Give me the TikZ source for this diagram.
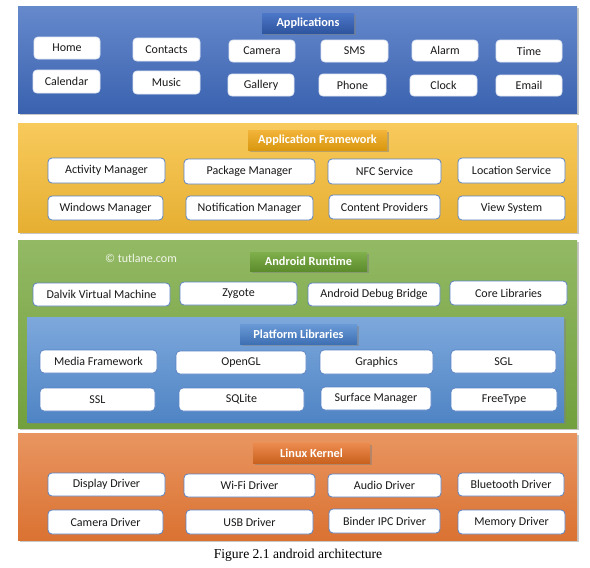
\documentclass[tikz,border=0pt]{standalone}
\usepackage{fontspec}
\setmainfont{Carlito}
\newfontfamily\capfont{Liberation Serif}
\usetikzlibrary{shadows}
\definecolor{appT}{HTML}{6689CC}\definecolor{appB}{HTML}{3A62AF}
\definecolor{fwT}{HTML}{F8CA5C}\definecolor{fwB}{HTML}{E6AF32}
\definecolor{rtT}{HTML}{93B964}\definecolor{rtB}{HTML}{72A03E}
\definecolor{lkT}{HTML}{E99560}\definecolor{lkB}{HTML}{DA7232}
\definecolor{plT}{HTML}{7DA8DC}\definecolor{plB}{HTML}{4F84C4}
\definecolor{tappT}{HTML}{4D77C8}\definecolor{tappB}{HTML}{2E559F}
\definecolor{tfwT}{HTML}{F2B43A}\definecolor{tfwB}{HTML}{D9980F}
\definecolor{trtT}{HTML}{80B04C}\definecolor{trtB}{HTML}{5C8C2C}
\definecolor{tplT}{HTML}{6A9AD6}\definecolor{tplB}{HTML}{3E70B4}
\definecolor{tlkT}{HTML}{EC8A4E}\definecolor{tlkB}{HTML}{C9621F}
\definecolor{bxline}{HTML}{5B84C4}
\newcommand\bx[7]{\node[#1, minimum width={(#5-#3)*0.75pt}, minimum height={(#6-#4)*0.75pt}] (#2) at ({(#3+#5)/2},{(#4+#6)/2}) {#7};}
\tikzset{
  layer/.style={rectangle, inner sep=0pt, draw=none, drop shadow={shadow xshift=1.2pt, shadow yshift=-1.2pt, opacity=0.45}},
  ttl/.style={rectangle, inner sep=0pt, draw=none, text=white, font=\fontsize{9.2}{11}\selectfont\bfseries, drop shadow={shadow xshift=1.2pt, shadow yshift=-1.2pt, opacity=0.5}},
  wbox/.style={rectangle, rounded corners=3pt, inner sep=0pt, fill=white, draw=bxline, line width=0.6pt, text=black!90, font=\fontsize{9}{10.8}\selectfont},
  abox/.style={wbox, draw=white!85!appB}
}
\begin{document}
\begin{tikzpicture}[x=0.75pt,y=-0.75pt]
\useasboundingbox (0,0) rectangle (590,568);
% layers
\bx{layer, top color=appT, bottom color=appB}{Lapp}{18}{6}{577}{113}{}
\bx{layer, top color=fwT, bottom color=fwB}{Lfw}{18}{123}{577}{232}{}
\bx{layer, top color=rtT, bottom color=rtB}{Lrt}{18}{240}{577}{428}{}
\bx{layer, top color=plT, bottom color=plB}{Lpl}{27}{317}{564}{422}{}
\bx{layer, top color=lkT, bottom color=lkB}{Llk}{18}{433}{577}{540}{}
% titles
\bx{ttl, top color=tappT, bottom color=tappB}{Tapp}{262}{13}{354}{33}{Applications}
\bx{ttl, top color=tfwT, bottom color=tfwB}{Tfw}{248}{130}{387}{150}{Application Framework}
\bx{ttl, top color=trtT, bottom color=trtB}{Trt}{250}{252}{367}{271}{Android Runtime}
\bx{ttl, top color=tplT, bottom color=tplB}{Tpl}{240}{324}{357}{344}{Platform Libraries}
\bx{ttl, top color=tlkT, bottom color=tlkB}{Tlk}{253}{443}{370}{463}{Linux Kernel}
% applications
\bx{abox}{home}{34}{37}{100}{59}{Home}
\bx{abox}{contacts}{133}{38}{200}{61}{Contacts}
\bx{abox}{camera}{229}{40}{295}{62}{Camera}
\bx{abox}{sms}{321}{40}{388}{62}{SMS}
\bx{abox}{alarm}{412}{40}{478}{61}{Alarm}
\bx{abox}{time}{496}{40}{562}{62}{Time}
\bx{abox}{calendar}{33}{70}{100}{93}{Calendar}
\bx{abox}{music}{133}{71}{200}{94}{Music}
\bx{abox}{gallery}{228}{74}{294}{96}{Gallery}
\bx{abox}{phone}{319}{74}{386}{96}{Phone}
\bx{abox}{clock}{410}{75}{477}{96}{Clock}
\bx{abox}{email}{496}{75}{562}{96}{Email}
% framework
\bx{wbox}{actm}{48}{158}{165}{183}{Activity Manager}
\bx{wbox}{pkgm}{184}{159}{315}{184}{Package Manager}
\bx{wbox}{nfc}{328}{159}{441}{184}{NFC Service}
\bx{wbox}{locs}{458}{158}{565}{183}{Location Service}
\bx{wbox}{winm}{48}{196}{163}{220}{Windows Manager}
\bx{wbox}{notm}{186}{196}{313}{220}{Notification Manager}
\bx{wbox}{cont}{329}{195}{440}{219}{Content Providers}
\bx{wbox}{views}{458}{196}{565}{220}{View System}
% runtime
\node[text=white!88!rtT, font=\fontsize{9}{10.8}\selectfont] (copy) at (141,258) {© tutlane.com};
\bx{wbox}{dalvik}{33}{283}{170}{306}{Dalvik Virtual Machine}
\bx{wbox}{zyg}{180}{282}{297}{305}{Zygote}
\bx{wbox}{adb}{308}{283}{440}{306}{Android Debug Bridge}
\bx{wbox}{corel}{450}{281}{567}{305}{Core Libraries}
% platform
\bx{wbox}{media}{40}{350}{157}{373}{Media Framework}
\bx{wbox}{opengl}{176}{351}{306}{374}{OpenGL}
\bx{wbox}{graph}{320}{350}{433}{374}{Graphics}
\bx{wbox}{sgl}{451}{350}{556}{373}{SGL}
\bx{wbox}{ssl}{40}{388}{155}{411}{SSL}
\bx{wbox}{sqlite}{179}{388}{304}{411}{SQLite}
\bx{wbox}{surf}{321}{387}{431}{410}{Surface Manager}
\bx{wbox}{freet}{451}{388}{557}{411}{FreeType}
% kernel
\bx{wbox}{disp}{48}{473}{165}{496}{Display Driver}
\bx{wbox}{wifi}{184}{474}{315}{497}{Wi-Fi Driver}
\bx{wbox}{audio}{328}{474}{441}{497}{Audio Driver}
\bx{wbox}{blue}{458}{473}{564}{496}{Bluetooth Driver}
\bx{wbox}{camd}{48}{510}{163}{534}{Camera Driver}
\bx{wbox}{usb}{186}{510}{313}{534}{USB Driver}
\bx{wbox}{binder}{329}{509}{440}{533}{Binder IPC Driver}
\bx{wbox}{memd}{458}{510}{565}{534}{Memory Driver}
% caption
\node[font=\capfont\fontsize{10.2}{12}\selectfont, text=black] (cap) at (298,555) {Figure 2.1 android architecture};
\end{tikzpicture}
\end{document}
